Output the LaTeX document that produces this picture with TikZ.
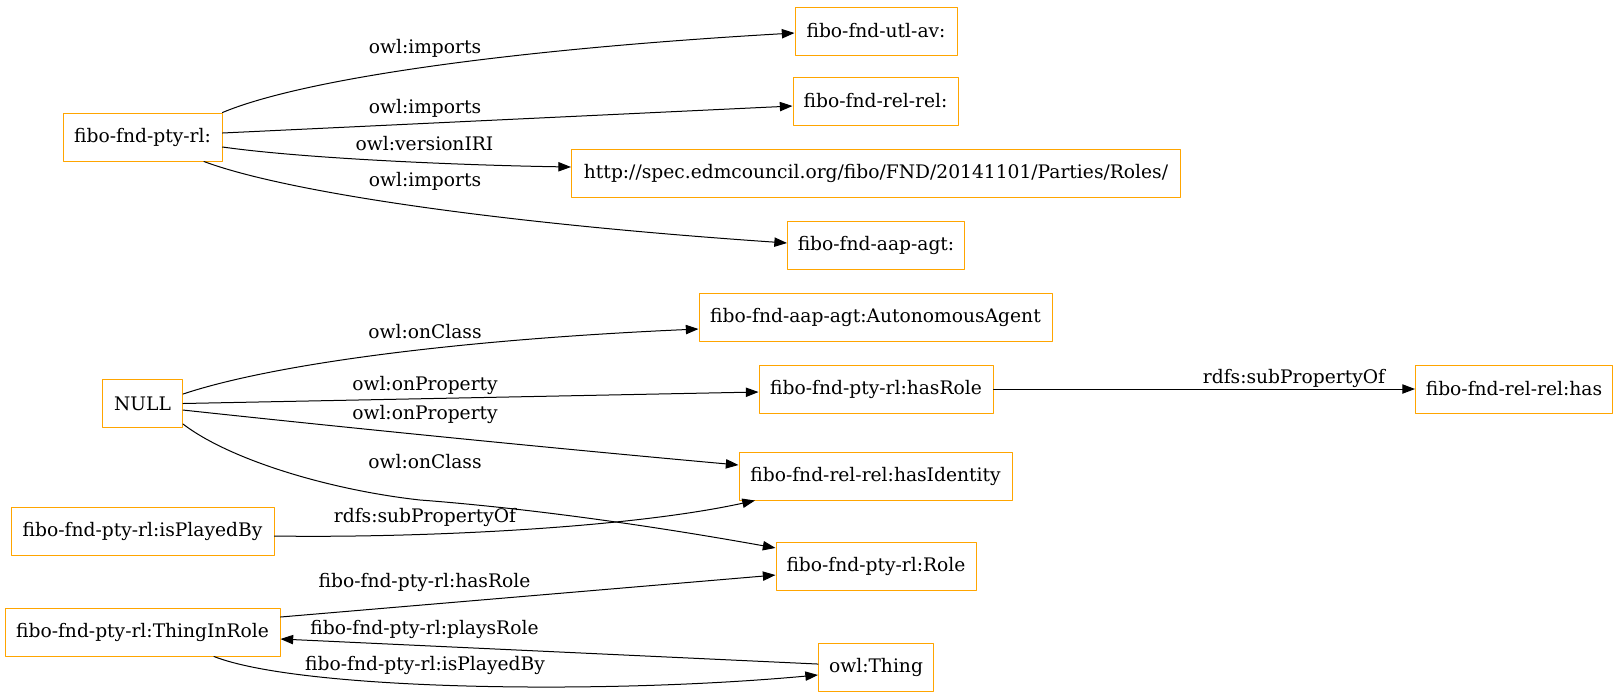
\documentclass[tikz,border=0pt]{standalone}
\usepackage{fontspec}
\setmainfont{DejaVu Serif}
\usepackage{tikz}
\usetikzlibrary{arrows.meta}
\definecolor{OwlOrange}{RGB}{255,165,0}
\tikzset{
  owlbox/.style   ={draw=OwlOrange, line width=0.75pt, minimum height=36pt, inner sep=0pt, font=\fontsize{14}{16}\selectfont},
  owlarrow/.style ={draw=black, line width=0.75pt, -{Triangle[length=9.5pt,width=7pt]}},
  owllabel/.style ={inner sep=0pt, font=\fontsize{14}{16}\selectfont},
}

\begin{document}
\begin{tikzpicture}[
  x=0.75pt,y=-0.75pt,
  line cap=round,
  line join=round
]

% --- Canvas --------------------------------------------------------------
\useasboundingbox (0,0) rectangle (1619,697);

% --- Ontology header -----------------------------------------------------
\node[owlbox, minimum width=119.25pt] (ptyrl)  at (142.5,137) {fibo-fnd-pty-rl:};
\node[owlbox, minimum width=121.5pt]  (utlav)  at (876,31)    {fibo-fnd-utl-av:};
\node[owlbox, minimum width=123.75pt] (relrel) at (875.5,101) {fibo-fnd-rel-rel:};
\node[owlbox, minimum width=456.75pt] (iri)    at (876,173)   {http://spec.edmcouncil.org/fibo/FND/20141101/Parties/Roles/};
\node[owlbox, minimum width=132.75pt] (aapagt) at (876,245)   {fibo-fnd-aap-agt:};

% --- Restriction and classes ---------------------------------------------
\node[owlbox, minimum width=60pt]     (null)     at (142.5,403.5) {NULL};
\node[owlbox, minimum width=264.75pt] (agent)    at (875.5,317)   {fibo-fnd-aap-agt:AutonomousAgent};
\node[owlbox, minimum width=175.5pt]  (hasrole)  at (876,389)     {fibo-fnd-pty-rl:hasRole};
\node[owlbox, minimum width=147.75pt] (relhas)   at (1514,389)    {fibo-fnd-rel-rel:has};
\node[owlbox, minimum width=204.75pt] (hasident) at (875.5,476)   {fibo-fnd-rel-rel:hasIdentity};
\node[owlbox, minimum width=150pt]    (role)     at (876,566.5)   {fibo-fnd-pty-rl:Role};
\node[owlbox, minimum width=86.25pt]  (thing)    at (876,667.5)   {owl:Thing};
\node[owlbox, minimum width=197.25pt] (played)   at (142.5,531)   {fibo-fnd-pty-rl:isPlayedBy};
\node[owlbox, minimum width=206.25pt] (inrole)   at (142.5,632)   {fibo-fnd-pty-rl:ThingInRole};

% --- Imports -------------------------------------------------------------
\draw[owlarrow] (ptyrl.north east) .. controls (300,80) and (500,50) .. ([yshift=-1.5pt]utlav.west);
\node[owllabel] (limp1) at (425,48) {owl:imports};

\draw[owlarrow] ([yshift=3pt]ptyrl.east) -- ([yshift=-3.75pt]relrel.west);
\node[owllabel] (limp2) at (425,108) {owl:imports};

\draw[owlarrow] ([yshift=-7.5pt]ptyrl.east) .. controls (300,158) and (450,165) .. ([yshift=4.5pt]iri.west);
\node[owllabel] (lver) at (424.5,144) {owl:versionIRI};

\draw[owlarrow] ([xshift=46.1pt]ptyrl.south) .. controls (280,190) and (480,222) .. ([yshift=1.5pt]aapagt.west);
\node[owllabel] (limp3) at (425,181) {owl:imports};

% --- NULL restriction ----------------------------------------------------
\draw[owlarrow] ([yshift=7.1pt]null.east) .. controls (270,365) and (450,340) .. ([yshift=-9pt]agent.west);
\node[owllabel] (lcls1) at (425,332) {owl:onClass};

\draw[owlarrow] (null.east) -- ([yshift=-2.25pt]hasrole.west);
\node[owllabel] (lprop1) at (425,385) {owl:onProperty};

\draw[owlarrow] ([yshift=-4.9pt]null.east) .. controls (350,428) and (550,448) .. ([yshift=8.25pt]hasident.west);
\node[owllabel] (lprop2) at (425,414) {owl:onProperty};

\draw[owlarrow] ([yshift=-15.4pt]null.east)
  .. controls (230,460) and (330,490) .. (420,500)
  .. controls (500,506) and (620,520) .. ([yshift=13.9pt]role.west);
\node[owllabel] (lcls2) at (425,462) {owl:onClass};

% --- Sub-properties ------------------------------------------------------
\draw[owlarrow] ([yshift=-3.75pt]played.east) .. controls (400,538) and (620,530) .. ([xshift=-90.4pt]hasident.south);
\node[owllabel] (lsub1) at (425,517) {rdfs:subPropertyOf};

\draw[owlarrow] (hasrole.east) -- (relhas.west);
\node[owllabel] (lsub2) at (1294,378) {rdfs:subPropertyOf};

% --- ThingInRole ---------------------------------------------------------
\draw[owlarrow] ([yshift=11.25pt]inrole.east) -- ([yshift=-6.4pt]role.west);
\node[owllabel] (lhas) at (424.5,582) {fibo-fnd-pty-rl:hasRole};

\draw[owlarrow] ([yshift=2.6pt]thing.west) -- ([yshift=-5.25pt]inrole.east);
\node[owllabel] (lplays) at (424.5,629) {fibo-fnd-pty-rl:playsRole};

\draw[owlarrow] ([xshift=53.6pt]inrole.south) .. controls (300,690) and (600,695) .. ([yshift=-5.6pt]thing.west);
\node[owllabel] (lplayed) at (425,665) {fibo-fnd-pty-rl:isPlayedBy};

\end{tikzpicture}
\end{document}
